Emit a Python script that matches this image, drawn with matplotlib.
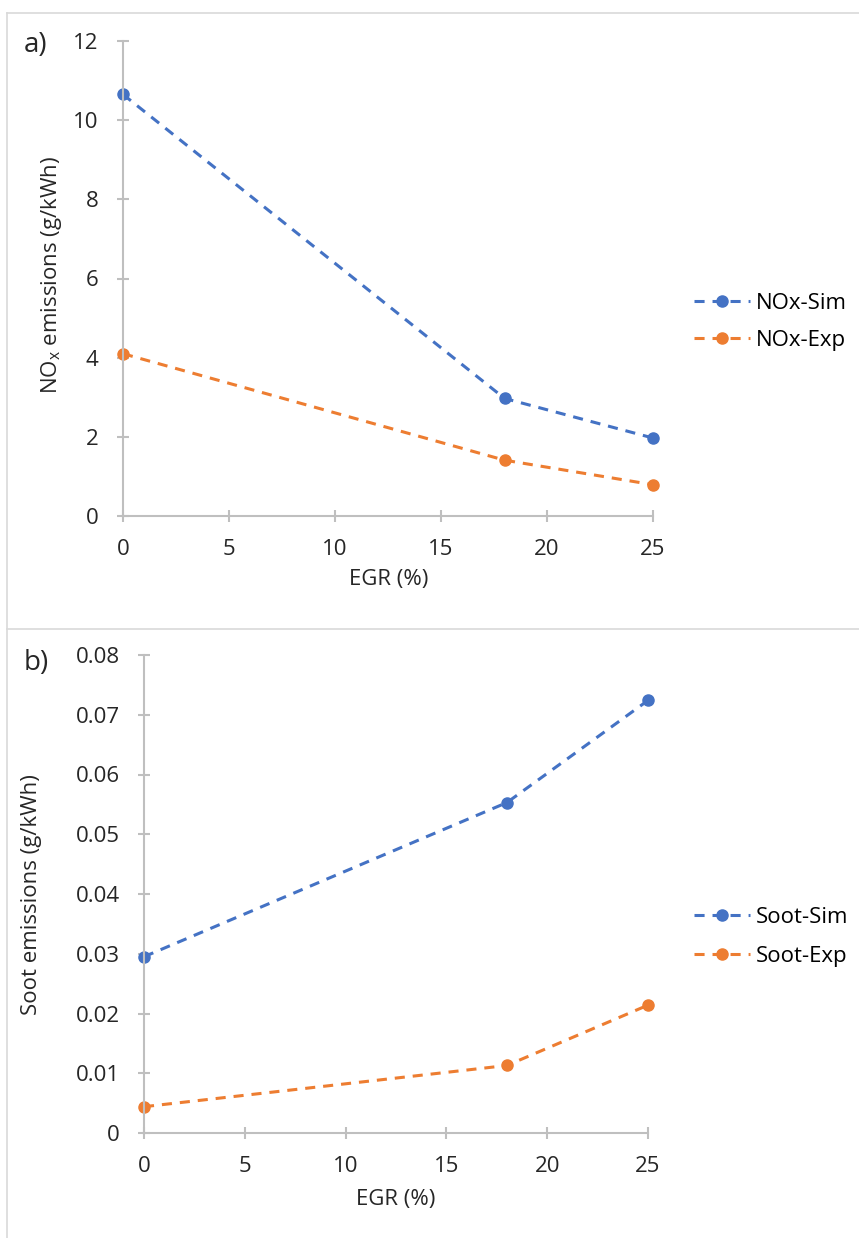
import matplotlib
matplotlib.use('Agg')
import matplotlib.pyplot as plt
from matplotlib.lines import Line2D

plt.rcParams['font.family'] = ['Open Sans', 'DejaVu Sans']

egr = [0, 18, 25]
nox_sim = [10.65, 2.97, 1.97]
nox_exp = [4.1, 1.41, 0.79]
soot_sim = [0.0295, 0.0553, 0.0724]
soot_exp = [0.0044, 0.0113, 0.0214]

xticks = [0, 5, 10, 15, 20, 25]
nox_yticks = [0, 2, 4, 6, 8, 10, 12]
soot_yticks = [0, 0.01, 0.02, 0.03, 0.04, 0.05, 0.06, 0.07, 0.08]
soot_ylabels = ['0', '0.01', '0.02', '0.03', '0.04', '0.05', '0.06', '0.07', '0.08']

blue = '#4472C4'
orange = '#ED7D31'
axcol = '#BFBFBF'
fs = 16

W, H = 859, 1238
fig = plt.figure(figsize=(W / 100, H / 100), dpi=100)

# panel frames
def fx(px):
    return px / W

def fy(py):
    return 1 - py / H

border = '#D9D9D9'
fig.add_artist(Line2D([fx(7), 1], [fy(13), fy(13)], color=border, lw=1.2))
fig.add_artist(Line2D([fx(7), fx(7)], [fy(13), 0], color=border, lw=1.2))
fig.add_artist(Line2D([fx(7), 1], [fy(629), fy(629)], color=border, lw=1.2))


def style(ax, xlim, ylim):
    for s in ['top', 'right']:
        ax.spines[s].set_visible(False)
    for s in ['left', 'bottom']:
        ax.spines[s].set_color(axcol)
        ax.spines[s].set_linewidth(1.5)
    ax.tick_params(direction='inout', length=9, width=1.5, color=axcol,
                   labelsize=fs, labelcolor='#262626')
    ax.tick_params(axis='y', pad=13)
    ax.tick_params(axis='x', pad=12)
    ax.set_xlim(*xlim)
    ax.set_ylim(*ylim)
    ax.set_xticks(xticks)
    ax.patch.set_alpha(0)


line_kw = dict(ls=(0, (3.3, 2.6)), lw=2.2, marker='o', markersize=8, clip_on=False)

# a) NOx
ax1 = fig.add_axes([fx(123), fy(516), fx(653) - fx(123), fy(41) - fy(516)])
ax1.plot(egr, nox_sim, color=blue, label='NOx-Sim', **line_kw)
ax1.plot(egr, nox_exp, color=orange, label='NOx-Exp', **line_kw)
style(ax1, (0, 25), (0, 12))
ax1.set_yticks(nox_yticks)
fig.text(fx(52), fy(275), 'NO$_\\mathregular{x}$ emissions (g/kWh)', rotation=90,
         ha='center', va='center', fontsize=fs, color='#262626')
fig.text(fx(389), fy(580), 'EGR (%)', ha='center', va='center', fontsize=fs, color='#262626')
fig.text(fx(36), fy(45), 'a)', ha='center', va='center', fontsize=20, color='#262626')
ax1.legend(loc='center left', bbox_to_anchor=(fx(694), fy(322)), bbox_transform=fig.transFigure,
           frameon=False, fontsize=fs, handlelength=2.5, handletextpad=0.3,
           labelspacing=0.7, borderpad=0, borderaxespad=0)

# b) Soot
ax2 = fig.add_axes([fx(144), fy(1133), fx(648) - fx(144), fy(655) - fy(1133)])
ax2.plot(egr, soot_sim, color=blue, label='Soot-Sim', **line_kw)
ax2.plot(egr, soot_exp, color=orange, label='Soot-Exp', **line_kw)
style(ax2, (0, 25), (0, 0.08))
ax2.set_yticks(soot_yticks)
ax2.set_yticklabels(soot_ylabels)
fig.text(fx(32), fy(895), 'Soot emissions (g/kWh)', rotation=90,
         ha='center', va='center', fontsize=fs, color='#262626')
fig.text(fx(396), fy(1200), 'EGR (%)', ha='center', va='center', fontsize=fs, color='#262626')
fig.text(fx(36), fy(663), 'b)', ha='center', va='center', fontsize=20, color='#262626')
ax2.legend(loc='center left', bbox_to_anchor=(fx(694), fy(937)), bbox_transform=fig.transFigure,
           frameon=False, fontsize=fs, handlelength=2.5, handletextpad=0.3,
           labelspacing=0.8, borderpad=0, borderaxespad=0)

fig.savefig('out.png', dpi=100)
